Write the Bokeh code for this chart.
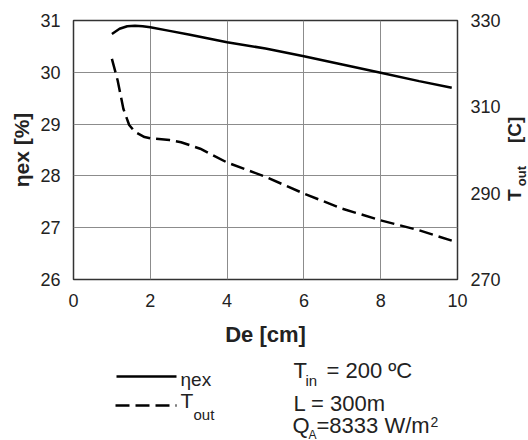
from math import pi
from bokeh.plotting import figure
from bokeh.layouts import column, row
from bokeh.models import Range1d, LinearAxis, Label, FixedTicker
from bokeh.embed import file_html
from bokeh.resources import INLINE

# ---- data ----
de_eta = [1.0, 1.2, 1.4, 1.6, 1.8, 2.0, 2.5, 3.0, 4.0, 5.0, 6.0, 7.0, 8.0, 9.0, 9.85]
eta_ex = [30.74, 30.84, 30.89, 30.90, 30.89, 30.87, 30.80, 30.73, 30.58, 30.46, 30.31, 30.15, 29.99, 29.83, 29.70]

de_t = [1.0, 1.15, 1.3, 1.45, 1.6, 1.85, 2.0, 2.5, 2.8, 3.3, 4.0, 5.0, 6.0, 7.0, 8.0, 9.0, 9.85]
t_out = [321.1, 316.1, 309.5, 305.8, 304.2, 303.0, 302.7, 302.3, 301.8, 300.3, 297.1, 293.8, 289.9, 286.4, 283.7, 281.4, 279.0]

x_ticks = [0, 2, 4, 6, 8, 10]
eta_ticks = [26, 27, 28, 29, 30, 31]
t_ticks = [270, 290, 310, 330]

FONT = "Liberation Sans"
TXT = "#222222"

# ---- main chart ----
p = figure(frame_width=384, frame_height=259,
           min_border_left=73, min_border_right=40, min_border_top=20, min_border_bottom=65,
           x_range=Range1d(0, 10), y_range=Range1d(26, 31),
           output_backend="svg", toolbar_location=None,
           background_fill_color="white", border_fill_color="white")
p.extra_y_ranges = {"T": Range1d(270, 330)}

p.outline_line_color = "#333333"
p.outline_line_width = 1.5

p.xaxis.ticker = FixedTicker(ticks=x_ticks)
p.yaxis.ticker = FixedTicker(ticks=eta_ticks)
p.xgrid.ticker = FixedTicker(ticks=x_ticks)
p.ygrid.ticker = FixedTicker(ticks=eta_ticks)
p.grid.grid_line_color = "#8c8c8c"
p.grid.grid_line_width = 1

for ax in (p.xaxis[0], p.yaxis[0]):
    ax.axis_line_color = None
    ax.major_tick_line_color = None
    ax.minor_tick_line_color = None
    ax.major_label_text_font = FONT
    ax.major_label_text_font_size = "18px"
    ax.major_label_text_color = TXT
    ax.axis_label_text_font = FONT
    ax.axis_label_text_font_style = "bold"
    ax.axis_label_text_color = TXT

p.xaxis.axis_label = "De [cm]"
p.xaxis.axis_label_text_font_size = "22px"
p.xaxis.major_label_standoff = 8
p.xaxis.axis_label_standoff = 12
p.yaxis.axis_label = "ηex [%]"
p.yaxis.axis_label_text_font_size = "21px"
p.yaxis.major_label_standoff = 7
p.yaxis.axis_label_standoff = 4

rax = LinearAxis(y_range_name="T", ticker=FixedTicker(ticks=t_ticks))
rax.axis_line_color = None
rax.major_tick_line_color = None
rax.minor_tick_line_color = None
rax.major_label_text_font = FONT
rax.major_label_text_font_size = "18px"
rax.major_label_text_color = TXT
rax.major_label_standoff = 7
p.add_layout(rax, "right")

p.line(de_eta, eta_ex, line_color="black", line_width=2.5)
p.line(de_t, t_out, y_range_name="T", line_color="black", line_width=2.5, line_dash="14 6")


def blank(width, height, x0, x1, ytop, ybot):
    """A figure without axes whose coordinates are page pixels (layout only)."""
    f = figure(width=width, height=height, x_range=Range1d(x0, x1), y_range=Range1d(ybot, ytop),
               output_backend="svg", toolbar_location=None, min_border=0,
               background_fill_color="white", border_fill_color="white")
    f.axis.visible = False
    f.grid.visible = False
    f.outline_line_color = None
    return f


def lab(f, x, y, text, size, style="normal", rotated=False):
    # (x, y) is the intended baseline start in page pixels; compensate the
    # renderer's baseline offset of about half the font size
    shift = 0.5 * size
    if rotated:
        x, angle = x - shift, pi / 2
    else:
        y, angle = y - shift, 0.0
    f.add_layout(Label(x=x, y=y, text=text, text_font=FONT, text_font_size=f"{size}px",
                       text_font_style=style, text_color=TXT, angle=angle,
                       text_align="left", text_baseline="alphabetic"))


# ---- right strip: T_out [C] rotated (its frame is aligned with the main frame) ----
r = blank(30, 344, 497, 527, 20, 279)
lab(r, 517, 204, "T", 19, "bold", True)
lab(r, 521, 189, "out", 13, "bold", True)
lab(r, 517, 145, "[C]", 19, "bold", True)

# ---- bottom strip: legend and conditions ----
b = blank(527, 95, 0, 527, 344, 439)
b.line([116, 176], [371, 371], line_color="black", line_width=2.5)
b.line([115, 176], [400, 400], line_color="black", line_width=2.5, line_dash="14 6")
lab(b, 180, 383, "ηex", 19)
lab(b, 180, 405, "T", 21)
lab(b, 193, 416, "out", 15)

lab(b, 293, 376, "T", 22)
lab(b, 305, 382, "in", 15)
lab(b, 326, 376, "= 200 ºC", 22)
lab(b, 293, 409, "L = 300m", 22)
lab(b, 292, 431, "Q", 22)
lab(b, 308, 435, "A", 12)
lab(b, 316, 431, "=8333 W/m", 22)
lab(b, 430, 423, "2", 14)

layout = column(row(p, r), b)
open("out.html", "w").write(file_html(layout, INLINE))
